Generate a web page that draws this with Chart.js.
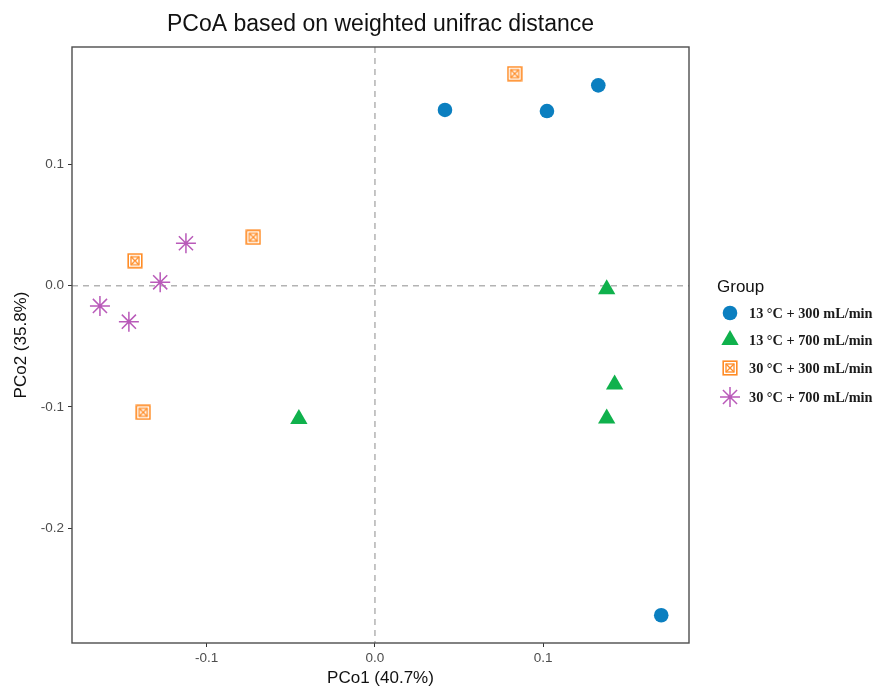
<!DOCTYPE html>
<html><head><meta charset="utf-8">
<script src="https://cdn.jsdelivr.net/npm/chart.js@4/dist/chart.umd.min.js"></script>
<style>html,body{margin:0;padding:0;background:#fff}#wrap{width:875px;height:686px;position:relative}</style>
</head><body><div id="wrap"><canvas id="c"></canvas></div>
<script>
// ---- data ----
const groups = ['13 °C + 300 mL/min', '13 °C + 700 mL/min', '30 °C + 300 mL/min', '30 °C + 700 mL/min'];
const g1x = [0.0416, 0.1022, 0.1327, 0.1701];
const g1y = [0.1449, 0.1440, 0.1652, -0.2717];
const g2x = [0.1377, 0.1424, 0.1377, -0.0452];
const g2y = [-0.0030, -0.0814, -0.1096, -0.1100];
const g3x = [0.0830, -0.0723, -0.1426, -0.1377];
const g3y = [0.1748, 0.0399, 0.0206, -0.1044];
const g4x = [-0.1123, -0.1276, -0.1634, -0.1462];
const g4y = [0.0350, 0.0028, -0.0167, -0.0297];
const xTicks = [-0.1, 0.0, 0.1];
const yTicks = [-0.2, -0.1, 0.0, 0.1];
const xTitle = 'PCo1 (40.7%)';
const yTitle = 'PCo2 (35.8%)';
const chartTitle = 'PCoA based on weighted unifrac distance';
const legendTitle = 'Group';

// ---- styles ----
const colors = ['#0b7fc0', '#0fb14c', '#ff8c26', '#b95ab9'];
function boxX(color) {
  const s = 16, c = document.createElement('canvas');
  c.width = s; c.height = s;
  const g = c.getContext('2d');
  g.strokeStyle = color; g.lineWidth = 1.6;
  g.strokeRect(1.2, 1.2, s - 2.4, s - 2.4);
  g.lineWidth = 1.3;
  g.strokeRect(4, 4, s - 8, s - 8);
  g.beginPath();
  g.moveTo(4, 4); g.lineTo(s - 4, s - 4);
  g.moveTo(s - 4, 4); g.lineTo(4, s - 4);
  g.stroke();
  return c;
}
const boxImg = boxX(colors[2]);
const styles = [
  {pointStyle: 'circle', radius: 7.3, bw: 0},
  {pointStyle: 'triangle', radius: 10, bw: 0},
  {pointStyle: boxImg, radius: 8, bw: 1},
  {pointStyle: 'star', radius: 10, bw: 1.5}
];
const xs = [g1x, g2x, g3x, g4x], ys = [g1y, g2y, g3y, g4y];
const datasets = groups.map((name, i) => ({
  label: name,
  data: xs[i].map((x, j) => ({x: x, y: ys[i][j]})),
  pointStyle: styles[i].pointStyle,
  pointRadius: styles[i].radius,
  pointHoverRadius: styles[i].radius,
  pointBorderWidth: styles[i].bw,
  backgroundColor: colors[i],
  borderColor: colors[i]
}));

const frame = {
  id: 'frame',
  beforeDatasetsDraw(chart) {
    const {ctx, chartArea: a, scales: {x, y}} = chart;
    ctx.save();
    ctx.strokeStyle = '#b3b3b3'; ctx.lineWidth = 1.5; ctx.setLineDash([6, 5]);
    const px = x.getPixelForValue(0), py = y.getPixelForValue(0);
    ctx.beginPath();
    ctx.moveTo(px, a.top); ctx.lineTo(px, a.bottom);
    ctx.moveTo(a.left, py); ctx.lineTo(a.right, py);
    ctx.stroke();
    ctx.restore();
  },
  afterDraw(chart) {
    const {ctx, chartArea: a} = chart;
    ctx.save();
    ctx.strokeStyle = '#4d4d4d'; ctx.lineWidth = 1.4;
    ctx.strokeRect(a.left, a.top, a.right - a.left, a.bottom - a.top);
    // title
    ctx.fillStyle = '#111';
    ctx.font = '23px "Liberation Sans", Arial, sans-serif';
    ctx.textAlign = 'center'; ctx.textBaseline = 'middle';
    ctx.fillText(chartTitle, (a.left + a.right) / 2, 25);
    // legend
    ctx.textAlign = 'left';
    ctx.font = '17px "Liberation Sans", Arial, sans-serif';
    ctx.fillStyle = '#111';
    ctx.fillText(legendTitle, 717, 287);
    const ly = [313, 340, 368, 397];
    ctx.font = 'bold 14.3px "Liberation Serif", "DejaVu Serif", serif';
    chart.data.datasets.forEach((ds, i) => {
      const opts = {pointStyle: ds.pointStyle, radius: ds.pointRadius, borderWidth: ds.pointBorderWidth, rotation: 0};
      ctx.fillStyle = ds.backgroundColor; ctx.strokeStyle = ds.borderColor; ctx.lineWidth = ds.pointBorderWidth || 1;
      Chart.helpers.drawPoint(ctx, opts, 730, ly[i]);
      ctx.fillStyle = '#1a1a1a';
      ctx.fillText(ds.label, 749, ly[i] + 1);
    });
    ctx.restore();
  }
};

const tickFont = {family: '"Liberation Sans", Arial, sans-serif', size: 13.5};
const titleFont = {family: '"Liberation Sans", Arial, sans-serif', size: 17};
new Chart(document.getElementById('c'), {
  type: 'scatter',
  data: {datasets},
  options: {
    responsive: true, maintainAspectRatio: false, animation: false,
    layout: {padding: {left: 0, right: 186, top: 47, bottom: 0}},
    plugins: {legend: {display: false}, title: {display: false}, tooltip: {enabled: false}},
    scales: {
      x: {
        type: 'linear', min: -0.18, max: 0.1866,
        afterBuildTicks: s => { s.ticks = xTicks.map(v => ({value: v})); },
        afterFit: s => { s.height = 43; },
        ticks: {callback: v => v.toFixed(1), color: '#4d4d4d', font: tickFont, padding: 3, maxRotation: 0, autoSkip: false},
        grid: {display: true, drawOnChartArea: false, drawTicks: true, tickLength: 4, color: '#333', lineWidth: 1},
        border: {display: false},
        title: {display: true, text: xTitle, color: '#111', font: titleFont, padding: {top: 0, bottom: -3}}
      },
      y: {
        type: 'linear', min: -0.2946, max: 0.1968,
        afterBuildTicks: s => { s.ticks = yTicks.map(v => ({value: v})); },
        afterFit: s => { s.width = 72; },
        ticks: {callback: v => v.toFixed(1), color: '#4d4d4d', font: tickFont, padding: 4, autoSkip: false},
        grid: {display: true, drawOnChartArea: false, drawTicks: true, tickLength: 4, color: '#333', lineWidth: 1},
        border: {display: false},
        title: {display: true, text: yTitle, color: '#111', font: titleFont, padding: {top: 11, bottom: 0}}
      }
    }
  },
  plugins: [frame]
});
</script>
</body></html>
